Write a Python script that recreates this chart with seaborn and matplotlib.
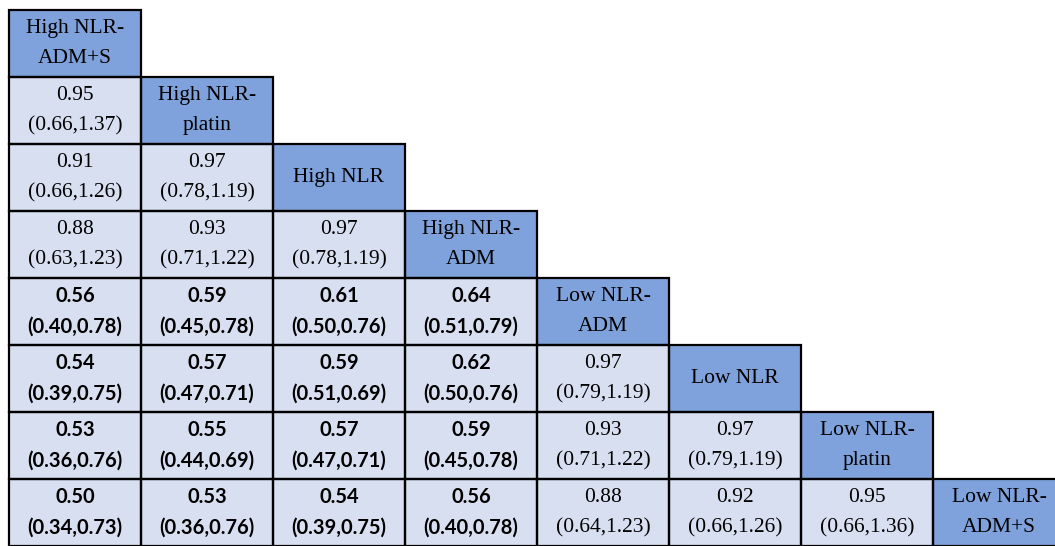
import numpy as np
import seaborn as sns
import matplotlib.pyplot as plt
from matplotlib.colors import ListedColormap
from matplotlib.patches import Rectangle

# treatments on the diagonal
treatments = ["High NLR-\nADM+S", "High NLR-\nplatin", "High NLR", "High NLR-\nADM",
              "Low NLR-\nADM", "Low NLR", "Low NLR-\nplatin", "Low NLR-\nADM+S"]

# lower triangle: hazard ratio and 95% CI, row by row (row i has i entries)
hr = [[0.95],
      [0.91, 0.97],
      [0.88, 0.93, 0.97],
      [0.56, 0.59, 0.61, 0.64],
      [0.54, 0.57, 0.59, 0.62, 0.97],
      [0.53, 0.55, 0.57, 0.59, 0.93, 0.97],
      [0.50, 0.53, 0.54, 0.56, 0.88, 0.92, 0.95]]
ci_low = [[0.66],
          [0.66, 0.78],
          [0.63, 0.71, 0.78],
          [0.40, 0.45, 0.50, 0.51],
          [0.39, 0.47, 0.51, 0.50, 0.79],
          [0.36, 0.44, 0.47, 0.45, 0.71, 0.79],
          [0.34, 0.36, 0.39, 0.40, 0.64, 0.66, 0.66]]
ci_high = [[1.37],
           [1.26, 1.19],
           [1.23, 1.22, 1.19],
           [0.78, 0.78, 0.76, 0.79],
           [0.75, 0.71, 0.69, 0.76, 1.19],
           [0.76, 0.69, 0.71, 0.78, 1.22, 1.19],
           [0.73, 0.76, 0.75, 0.78, 1.23, 1.26, 1.36]]

n = len(treatments)
grid = np.zeros((n, n))
np.fill_diagonal(grid, 1)
mask = np.triu(np.ones((n, n), dtype=bool), k=1)

plt.rcParams['font.family'] = ['Liberation Serif', 'DejaVu Serif']

fig = plt.figure(figsize=(10.55, 5.46), dpi=100)
ax = fig.add_axes([9 / 1055, 0, 1056 / 1055, 536 / 546])

sns.heatmap(grid, mask=mask, cmap=ListedColormap(["#d8dff0", "#7fa2dc"]),
            vmin=0, vmax=1, cbar=False, linewidths=0,
            xticklabels=False, yticklabels=False, ax=ax)

# cell borders only for the drawn (lower) triangle
for i in range(n):
    for j in range(i + 1):
        ax.add_patch(Rectangle((j, i), 1, 1, fill=False, edgecolor="black",
                               linewidth=1.6, clip_on=False))

fs = 15.5
dy = 0.23

# diagonal labels
for i, name in enumerate(treatments):
    lines = name.split("\n")
    if len(lines) == 1:
        ax.text(i + 0.5, i + 0.5, lines[0], ha="center", va="center", fontsize=fs)
    else:
        ax.text(i + 0.5, i + 0.5 - dy, lines[0], ha="center", va="center", fontsize=fs)
        ax.text(i + 0.5, i + 0.5 + dy, lines[1], ha="center", va="center", fontsize=fs)

# lower triangle estimates (significant ones in bold sans)
for r in range(len(hr)):
    i = r + 1
    for j in range(len(hr[r])):
        if ci_high[r][j] < 1:
            kw = dict(fontsize=14.5, fontweight="bold", family=["Lato", "DejaVu Sans"])
        else:
            kw = dict(fontsize=fs)
        ax.text(j + 0.5, i + 0.5 - dy, f"{hr[r][j]:.2f}", ha="center", va="center", **kw)
        ax.text(j + 0.5, i + 0.5 + dy, f"({ci_low[r][j]:.2f},{ci_high[r][j]:.2f})",
                ha="center", va="center", **kw)

ax.set_xlabel("")
ax.set_ylabel("")

fig.savefig("out.png", dpi=100)
